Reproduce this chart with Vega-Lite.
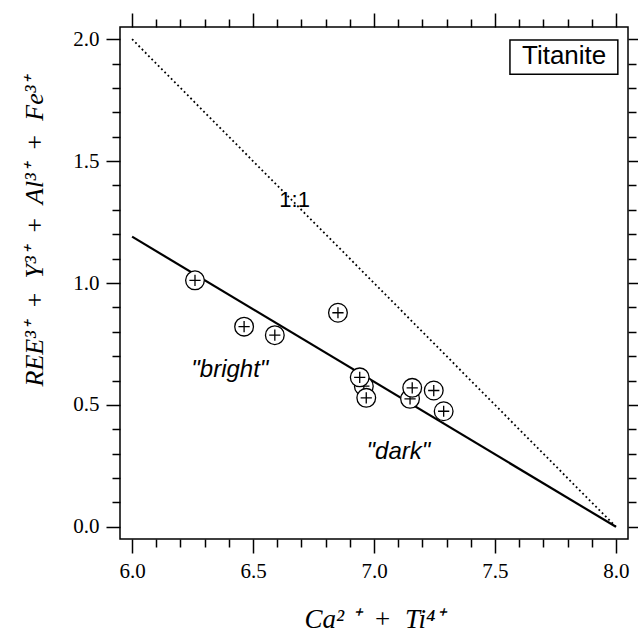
{
  "$schema": "https://vega.github.io/schema/vega-lite/v6.json",
  "width": 508,
  "height": 512,
  "autosize": "none",
  "padding": {"left": 120, "top": 27, "right": 10, "bottom": 94},
  "background": "white",
  "config": {
    "view": {"stroke": "black", "strokeWidth": 1.5},
    "axis": {
      "domain": false,
      "grid": false,
      "tickColor": "black",
      "tickWidth": 1.5,
      "labelColor": "black",
      "labelFont": "Liberation Serif",
      "labelFontSize": 21,
      "labelPadding": 7,
      "labelOverlap": false,
      "labelFlush": false,
      "titleColor": "black",
      "titleFont": "Liberation Serif",
      "titleFontStyle": "italic",
      "titleFontWeight": "normal",
      "titleFontSize": 27
    }
  },
  "datasets": {
    "pts": [
      {"x": 6.260, "y": 1.011},
      {"x": 6.463, "y": 0.821},
      {"x": 6.590, "y": 0.786},
      {"x": 6.851, "y": 0.878},
      {"x": 6.958, "y": 0.577},
      {"x": 6.941, "y": 0.613},
      {"x": 6.968, "y": 0.529},
      {"x": 7.149, "y": 0.525},
      {"x": 7.158, "y": 0.570},
      {"x": 7.247, "y": 0.559},
      {"x": 7.288, "y": 0.474}
    ],
    "fit": [{"x": 6.0, "y": 1.19}, {"x": 8.0, "y": 0.0}],
    "oneone": [{"x": 6.0, "y": 2.0}, {"x": 8.0, "y": 0.0}],
    "labels": [
      {"x": 6.672, "y": 1.310, "label": "1:1", "kind": "plain"},
      {"x": 6.404, "y": 0.613, "label": "\"bright\"", "kind": "italic"},
      {"x": 7.101, "y": 0.280, "label": "\"dark\"", "kind": "italic"}
    ],
    "box": [{"x": 7.562, "x2": 8.008, "y": 1.856, "y2": 1.997, "label": "Titanite", "ty": 1.897, "tx": 7.786}]
  },
  "layer": [
    {
      "encoding": {
        "x": {
          "field": "x", "type": "quantitative",
          "scale": {"domain": [5.95, 8.05], "nice": false, "zero": false},
          "axis": {
            "orient": "bottom",
            "values": [6.0, 6.5, 7.0, 7.5, 8.0],
            "format": ".1f",
            "tickSize": 14,
            "title": "Ca² ⁺ \u00a0+\u00a0 Ti⁴⁺",
            "titleY": 88,
            "titleBaseline": "alphabetic"
          }
        },
        "y": {
          "field": "y", "type": "quantitative",
          "scale": {"domain": [-0.05, 2.05], "nice": false, "zero": false},
          "axis": {
            "orient": "left",
            "values": [0.0, 0.5, 1.0, 1.5, 2.0],
            "format": ".1f",
            "tickSize": 14,
            "title": "REE³⁺ \u00a0+\u00a0 Y³⁺ \u00a0+\u00a0 Al³⁺ \u00a0+\u00a0 Fe³⁺",
            "titleFontSize": 26,
            "titleX": -78,
            "titleY": 204,
            "titleAngle": 270,
            "titleBaseline": "alphabetic"
          }
        }
      },
      "layer": [
        {
          "data": {"name": "oneone"},
          "mark": {"type": "line", "stroke": "black", "strokeWidth": 1.8, "strokeDash": [1.8, 2.8]}
        },
        {
          "data": {"name": "fit"},
          "mark": {"type": "line", "stroke": "black", "strokeWidth": 2.2}
        },
        {
          "data": {"name": "pts"},
          "mark": {
            "type": "point",
            "shape": "M-1,0A1,1 0 1,1 1,0A1,1 0 1,1 -1,0Z M-0.6,0H0.6M0,-0.6V0.6",
            "filled": true,
            "fill": "white",
            "stroke": "black",
            "strokeWidth": 1.3,
            "size": 350,
            "opacity": 1
          }
        },
        {
          "data": {"name": "labels"},
          "transform": [{"filter": "datum.kind == 'plain'"}],
          "mark": {"type": "text", "font": "Liberation Sans", "fontSize": 22, "align": "center", "baseline": "alphabetic", "color": "black"},
          "encoding": {"text": {"field": "label"}}
        },
        {
          "data": {"name": "labels"},
          "transform": [{"filter": "datum.kind == 'italic'"}],
          "mark": {"type": "text", "font": "Liberation Sans", "fontSize": 24, "fontStyle": "italic", "align": "center", "baseline": "alphabetic", "color": "black"},
          "encoding": {"text": {"field": "label"}}
        },
        {
          "data": {"name": "box"},
          "mark": {"type": "rect", "fill": "white", "stroke": "black", "strokeWidth": 1.5},
          "encoding": {"x2": {"field": "x2"}, "y2": {"field": "y2"}}
        },
        {
          "data": {"name": "box"},
          "mark": {"type": "text", "font": "Liberation Sans", "fontSize": 26, "align": "center", "baseline": "alphabetic", "color": "black"},
          "encoding": {
            "x": {"field": "tx", "type": "quantitative"},
            "y": {"field": "ty", "type": "quantitative"},
            "text": {"field": "label"}
          }
        }
      ]
    },
    {
      "data": {"name": "pts"},
      "mark": {"type": "point", "opacity": 0},
      "encoding": {
        "x": {
          "field": "x", "type": "quantitative",
          "scale": {"domain": [5.95, 8.05], "nice": false, "zero": false},
          "axis": {
            "orient": "bottom",
            "values": [6.1, 6.2, 6.3, 6.4, 6.6, 6.7, 6.8, 6.9, 7.1, 7.2, 7.3, 7.4, 7.6, 7.7, 7.8, 7.9],
            "tickSize": 8,
            "labels": false,
            "title": null
          }
        },
        "y": {
          "field": "y", "type": "quantitative",
          "scale": {"domain": [-0.05, 2.05], "nice": false, "zero": false},
          "axis": {
            "orient": "left",
            "values": [0.1, 0.2, 0.3, 0.4, 0.6, 0.7, 0.8, 0.9, 1.1, 1.2, 1.3, 1.4, 1.6, 1.7, 1.8, 1.9],
            "tickSize": 8,
            "labels": false,
            "title": null
          }
        }
      }
    },
    {
      "data": {"name": "pts"},
      "mark": {"type": "point", "opacity": 0},
      "encoding": {
        "x": {
          "field": "x", "type": "quantitative",
          "scale": {"domain": [5.95, 8.05], "nice": false, "zero": false},
          "axis": {
            "orient": "top",
            "values": [6.0, 6.5, 7.0, 7.5, 8.0],
            "tickSize": 14,
            "labels": false,
            "title": null
          }
        },
        "y": {
          "field": "y", "type": "quantitative",
          "scale": {"domain": [-0.05, 2.05], "nice": false, "zero": false},
          "axis": {
            "orient": "right",
            "values": [0.0, 0.5, 1.0, 1.5, 2.0],
            "tickSize": 14,
            "labels": false,
            "title": null
          }
        }
      }
    },
    {
      "data": {"name": "pts"},
      "mark": {"type": "point", "opacity": 0},
      "encoding": {
        "x": {
          "field": "x", "type": "quantitative",
          "scale": {"domain": [5.95, 8.05], "nice": false, "zero": false},
          "axis": {
            "orient": "top",
            "values": [6.1, 6.2, 6.3, 6.4, 6.6, 6.7, 6.8, 6.9, 7.1, 7.2, 7.3, 7.4, 7.6, 7.7, 7.8, 7.9],
            "tickSize": 8,
            "labels": false,
            "title": null
          }
        },
        "y": {
          "field": "y", "type": "quantitative",
          "scale": {"domain": [-0.05, 2.05], "nice": false, "zero": false},
          "axis": {
            "orient": "right",
            "values": [0.1, 0.2, 0.3, 0.4, 0.6, 0.7, 0.8, 0.9, 1.1, 1.2, 1.3, 1.4, 1.6, 1.7, 1.8, 1.9],
            "tickSize": 8,
            "labels": false,
            "title": null
          }
        }
      }
    }
  ],
  "resolve": {"axis": {"x": "independent", "y": "independent"}}
}
